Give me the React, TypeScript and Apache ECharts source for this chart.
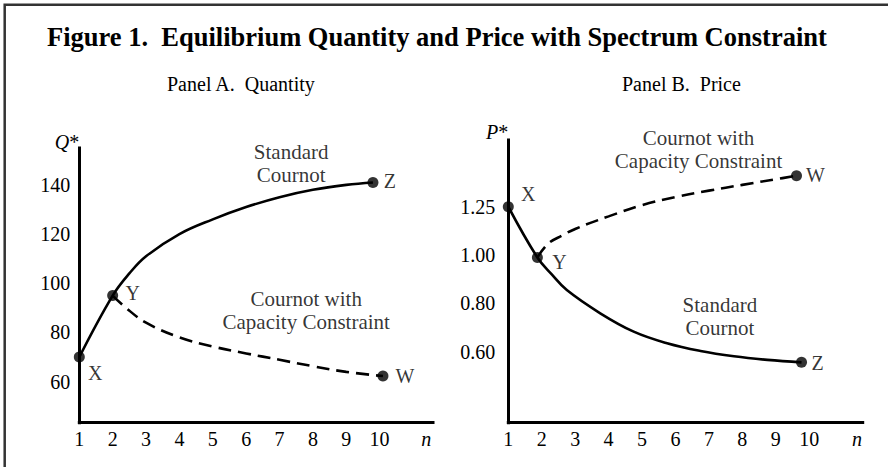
import React, { useEffect, useRef } from 'react';
import * as echarts from 'echarts';

const FONT = "'Liberation Serif', 'Times New Roman', Times, serif";

// ---- data ----
const nTicks = [1, 2, 3, 4, 5, 6, 7, 8, 9, 10];
const qTicks = [60, 80, 100, 120, 140];
const priceTicks = [0.6, 0.8, 1.0, 1.25];
const priceTickLabels = ['0.60', '0.80', '1.00', '1.25'];

const qStandard = [[1, 70], [2, 95], [2.5, 104], [3, 111], [4, 120], [5, 126], [6, 131], [7, 135], [8, 138], [9, 140], [9.8, 141]];
const qCapacity = [[2, 95], [2.4, 90], [3, 84], [4, 78], [5, 74.3], [6, 71.5], [7, 68.9], [8, 66.3], [9, 64], [10.1, 62.3]];
const qPoints = [['X', 1, 70], ['Y', 2, 95], ['Z', 9.8, 141], ['W', 10.1, 62.3]];

const pStandard = [[1, 1.25], [1.87, 0.99], [2.3, 0.92], [2.75, 0.855], [3.75, 0.759], [4.75, 0.683], [5.75, 0.635], [6.75, 0.603], [7.75, 0.581], [8.75, 0.566], [9.77, 0.556]];
const pCapacity = [[1.87, 0.99], [2.2, 1.06], [2.6, 1.1], [3, 1.135], [4, 1.2], [5, 1.258], [6, 1.3], [7, 1.333], [8, 1.363], [9, 1.392], [9.62, 1.41]];
const pPoints = [['X', 1, 1.25], ['Y', 1.87, 0.99], ['Z', 9.77, 0.556], ['W', 9.62, 1.41]];

const qNotes = [['Standard\nCournot', 7.35, 148.8], ['Cournot with\nCapacity Constraint', 7.8, 89]];
const pNotes = [['Cournot with\nCapacity Constraint', 6.69, 1.5475], ['Standard\nCournot', 7.33, 0.745]];

// ---- styling (label offsets, px) ----
const qLabelOffsets: Record<string, number[]> = { X: [16, 16], Y: [20, -3], Z: [17, -1], W: [22, 0] };
const pLabelOffsets: Record<string, number[]> = { X: [20, -13], Y: [22, 5], Z: [16, 1], W: [19, -1] };

// price axis is drawn with evenly spaced tick labels (schematic); map price -> tick position
function priceToPos(p: number): number {
  const t = priceTicks;
  if (p <= t[0]) return (p - t[0]) / (t[1] - t[0]);
  if (p >= t[t.length - 1]) return t.length - 1 + (p - t[t.length - 1]) / (t[t.length - 1] - t[t.length - 2]);
  for (let i = 0; i < t.length - 1; i++) {
    if (p <= t[i + 1]) return i + (p - t[i]) / (t[i + 1] - t[i]);
  }
  return 0;
}

const N_LABEL_A = 11.4;
const N_LABEL_B = 11.43;

export default function App() {
  const ref = useRef<HTMLDivElement>(null);
  useEffect(() => {
    if (!ref.current) return;
    const chart = echarts.init(ref.current, null, { renderer: 'svg' });
    const txt = { fontFamily: FONT, color: '#000' };
    const axisLine = { show: true, onZero: false, lineStyle: { color: '#000', width: 3, cap: 'square' } };

    const xAxis = (idx: number, nLabel: number) => ({
      type: 'value',
      gridIndex: idx,
      min: 1,
      max: 11.6,
      axisLine,
      axisTick: { show: false },
      splitLine: { show: false },
      axisLabel: {
        customValues: [...nTicks, nLabel],
        formatter: (v: number) => (v > 10.5 ? '{it|n}' : String(v)),
        margin: 6,
        fontSize: 20,
        ...txt,
        rich: { it: { fontStyle: 'italic', fontSize: 20, ...txt } },
      },
    });

    const pointSeries = (idx: number, pts: any[], offs: Record<string, number[]>, mapY: (v: number) => number) => ({
      type: 'scatter',
      xAxisIndex: idx,
      yAxisIndex: idx,
      symbol: 'circle',
      symbolSize: 11,
      itemStyle: { color: '#000' },
      z: 5,
      data: pts.map((p) => ({
        value: [p[1], mapY(p[2])],
        label: {
          show: true,
          position: 'inside',
          offset: offs[p[0]],
          formatter: p[0],
          fontSize: 20,
          ...txt,
        },
      })),
    });

    const noteSeries = (idx: number, notes: any[], mapY: (v: number) => number) => ({
      type: 'scatter',
      xAxisIndex: idx,
      yAxisIndex: idx,
      symbolSize: 0,
      silent: true,
      data: notes.map((n) => ({
        value: [n[1], mapY(n[2])],
        label: {
          show: true,
          position: 'inside',
          formatter: n[0],
          fontSize: 21,
          lineHeight: 23,
          align: 'center',
          ...txt,
        },
      })),
    });

    const lineSeries = (idx: number, data: number[][], dashed: boolean, mapY: (v: number) => number) => ({
      type: 'line',
      xAxisIndex: idx,
      yAxisIndex: idx,
      smooth: 0.4,
      showSymbol: false,
      symbol: 'none',
      data: data.map((d) => [d[0], mapY(d[1])]),
      lineStyle: { color: '#000', width: 2.6, type: dashed ? [13, 7] : 'solid' },
    });

    const id = (v: number) => v;

    const option: any = {
      animation: false,
      backgroundColor: '#fff',
      title: [
        {
          text: 'Figure 1.  Equilibrium Quantity and Price with Spectrum Constraint',
          left: 42,
          top: 18,
          textStyle: { fontFamily: FONT, fontSize: 26.5, fontWeight: 'bold', color: '#000' },
        },
        {
          text: 'Panel A.  Quantity',
          left: 162,
          top: 69,
          textStyle: { fontFamily: FONT, fontSize: 20, fontWeight: 'normal', color: '#000' },
        },
        {
          text: 'Panel B.  Price',
          left: 617,
          top: 69,
          textStyle: { fontFamily: FONT, fontSize: 20, fontWeight: 'normal', color: '#000' },
        },
      ],
      graphic: [
        {
          type: 'polyline',
          shape: { points: [[4.7, 467], [4.7, 4.7], [888, 4.7]] },
          style: { stroke: '#333', lineWidth: 2.5, fill: 'none' },
          silent: true,
        },
      ],
      grid: [
        { left: 79.3, right: 455, top: 148, bottom: 44.3 },
        { left: 508.3, right: 25.3, top: 140, bottom: 44.3 },
      ],
      xAxis: [xAxis(0, N_LABEL_A), xAxis(1, N_LABEL_B)],
      yAxis: [
        {
          type: 'value',
          gridIndex: 0,
          min: 43.33,
          max: 155,
          axisLine,
          axisTick: { show: false },
          splitLine: { show: false },
          axisLabel: { customValues: qTicks, margin: 9, fontSize: 20, ...txt },
          name: '{it|Q}*',
          nameLocation: 'end',
          nameGap: 6,
          nameTextStyle: {
            align: 'right',
            verticalAlign: 'middle',
            fontSize: 20,
            ...txt,
            rich: { it: { fontStyle: 'italic', fontSize: 20, ...txt } },
          },
        },
        {
          type: 'value',
          gridIndex: 1,
          min: -1.469,
          max: 4.38,
          axisLine,
          axisTick: { show: false },
          splitLine: { show: false },
          axisLabel: {
            customValues: priceTicks.map((_, i) => i),
            formatter: (v: number) => priceTickLabels[Math.round(v)] ?? '',
            margin: 13,
            fontSize: 20,
            ...txt,
          },
          name: '{it|P}*',
          nameLocation: 'end',
          nameGap: 8,
          nameTextStyle: {
            align: 'right',
            verticalAlign: 'middle',
            fontSize: 20,
            ...txt,
            rich: { it: { fontStyle: 'italic', fontSize: 20, ...txt } },
          },
        },
      ],
      series: [
        lineSeries(0, qStandard, false, id),
        lineSeries(0, qCapacity, true, id),
        pointSeries(0, qPoints, qLabelOffsets, id),
        noteSeries(0, qNotes, id),
        lineSeries(1, pStandard, false, priceToPos),
        lineSeries(1, pCapacity, true, priceToPos),
        pointSeries(1, pPoints, pLabelOffsets, priceToPos),
        noteSeries(1, pNotes, priceToPos),
      ],
    };
    chart.setOption(option);
    return () => chart.dispose();
  }, []);
  return <div ref={ref} style={{ position: 'fixed', left: 0, top: 0, width: 888, height: 467 }} />;
}
